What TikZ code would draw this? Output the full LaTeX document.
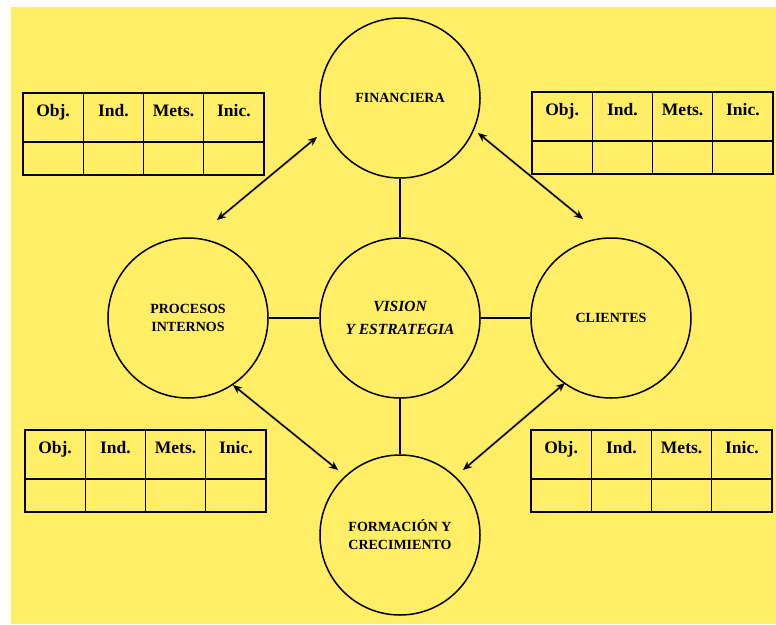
\documentclass[tikz,border=0pt]{standalone}
\usepackage{fontspec}
\setmainfont{Liberation Serif}
\usetikzlibrary{arrows.meta}
\definecolor{bg}{RGB}{255,238,102}
\tikzset{
  circ/.style={circle, draw=black, line width=1.5pt, fill=bg, minimum size=160pt, inner sep=0pt, align=center,
    font=\bfseries\fontsize{14}{18}\selectfont},
  link/.style={line width=1.3pt},
  tbl/.style={line width=1.1pt},
  hdr/.style={font=\bfseries\fontsize{17.5}{18}\selectfont, inner sep=0pt, anchor=base},
  arr/.style={{Stealth[length=9pt,width=7.5pt]}-{Stealth[length=9pt,width=7.5pt]}, line width=1.4pt},
  shadowarr/.style={arr, draw=black!60, opacity=0.35, line width=2.6pt}
}
\newcommand\bsctable[3]{%
  \begin{scope}[shift={(#2,#3)}]
    \draw[tbl] (0,0) rectangle (241,82);
    \draw[tbl] (0,49) -- (241,49);
    \foreach \i in {1,2,3} \draw[tbl] (60.25*\i,0) -- (60.25*\i,82);
    \node[hdr] (#1-obj) at (30.1,23) {Obj.};
    \node[hdr] (#1-ind) at (90.4,23) {Ind.};
    \node[hdr] (#1-mets) at (150.6,23) {Mets.};
    \node[hdr] (#1-inic) at (210.9,23) {Inic.};
  \end{scope}}
\begin{document}
\begin{tikzpicture}[x=1pt,y=-1pt]
\useasboundingbox (0,0) rectangle (776,624);
\fill[bg] (11,7) rectangle (776,624);

% tables
\bsctable{tl}{23}{93}
\bsctable{tr}{532}{92}
\bsctable{bl}{25}{430}
\bsctable{br}{531}{430}

% circles
\node[circ] (fin) at (400,98) {FINANCIERA};
\node[circ, font=\bfseries\itshape\fontsize{15.5}{23}\selectfont] (vis) at (400,318) {VISION\\Y ESTRATEGIA};
\node[circ] (pro) at (188,318) {PROCESOS\\INTERNOS};
\node[circ] (cli) at (611,318) {CLIENTES};
\node[circ] (for) at (400,535) {FORMACIÓN Y\\CRECIMIENTO};

% connecting lines
\draw[link] (fin) -- (vis);
\draw[link] (pro) -- (vis);
\draw[link] (vis) -- (cli);
\draw[link] (vis) -- (for);

% arrow end points
\coordinate (a1s) at (217,220); \coordinate (a1e) at (317,137);
\coordinate (a2s) at (478,133); \coordinate (a2e) at (583,219);
\coordinate (a3s) at (233,385); \coordinate (a3e) at (338,470);
\coordinate (a4s) at (565,383); \coordinate (a4e) at (463,470);

% shadows
\begin{scope}[shift={(2,2)}]
\draw[shadowarr] (a1s) -- (a1e);
\draw[shadowarr] (a2s) -- (a2e);
\draw[shadowarr] (a3s) -- (a3e);
\draw[shadowarr] (a4s) -- (a4e);
\end{scope}
% arrows
\draw[arr] (a1s) -- (a1e);
\draw[arr] (a2s) -- (a2e);
\draw[arr] (a3s) -- (a3e);
\draw[arr] (a4s) -- (a4e);
\end{tikzpicture}
\end{document}
